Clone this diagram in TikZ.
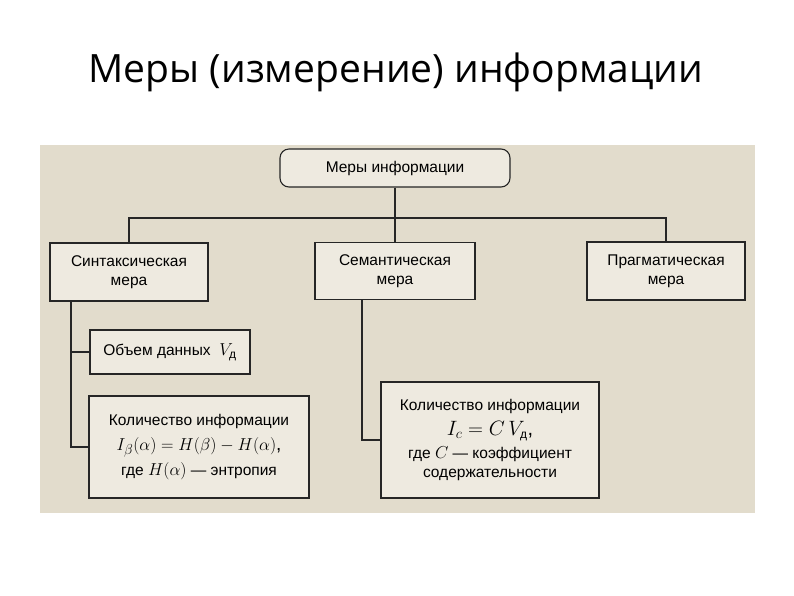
\documentclass[tikz,border=0pt]{standalone}
\usepackage{fontspec}
\setmainfont{Liberation Sans}
\newfontfamily\titlefont{Open Sans}
\newcommand{\dsub}{\mbox{\fontsize{12}{14}\selectfont д}}
\begin{document}
\begin{tikzpicture}[x=1pt,y=-1pt,
  box/.style={draw=black!85,line width=1.1pt,fill=paper!60!white,align=center,font=\fontsize{15.5}{19}\selectfont,inner sep=0pt},
  conn/.style={draw=black!85,line width=1.1pt}]
\definecolor{paper}{RGB}{226,220,204}
\useasboundingbox (0,0) rectangle (794,595);
\fill[white] (0,0) rectangle (794,595);
\fill[paper] (40,145) rectangle (755,513);
\node[font=\titlefont\fontsize{39}{44}\selectfont] (title) at (396,72) {Меры (измерение) информации};
\node[box,rounded corners=9pt,minimum width=230pt,minimum height=38pt] (top) at (395,168) {Меры информации};
\node[box,minimum width=158pt,minimum height=58pt] (syn) at (129,272) {Синтаксическая\\мера};
\node[box,minimum width=160pt,minimum height=57pt] (sem) at (395,271) {Семантическая\\мера};
\node[box,minimum width=158pt,minimum height=58pt] (prag) at (666,271) {Прагматическая\\мера};
\node[box,minimum width=160pt,minimum height=44pt] (vol) at (170,352) {Объем данных \ {\fontsize{19}{20}\selectfont$V_{\dsub}$}};
\node[box,minimum width=220pt,minimum height=102pt] (qsyn) at (199,447) {Количество информации\\[6pt] {\fontsize{19}{22}\selectfont$I_\beta(\alpha)=H(\beta)-H(\alpha)$,}\\[5pt] где {\fontsize{18}{19}\selectfont$H(\alpha)$} — энтропия};
\node[box,minimum width=218pt,minimum height=116pt] (qsem) at (490,440) {Количество информации\\[6pt] {\fontsize{20}{22}\selectfont$I_c=C\,V_{\dsub}$,}\\[4pt] где {\fontsize{18}{19}\selectfont$C$} — коэффициент\\ содержательности};
\coordinate (j) at (395,218);
\draw[conn] (top.south) -- (j);
\draw[conn] (syn.north) |- (j) -| (prag.north);
\draw[conn] (j) -- (sem.north);
\draw[conn] (syn.south -| 71,0) |- (vol.west);
\draw[conn] (71,352) |- (qsyn.west);
\draw[conn] (sem.south -| 362,0) |- (qsem.west);
\end{tikzpicture}
\end{document}
